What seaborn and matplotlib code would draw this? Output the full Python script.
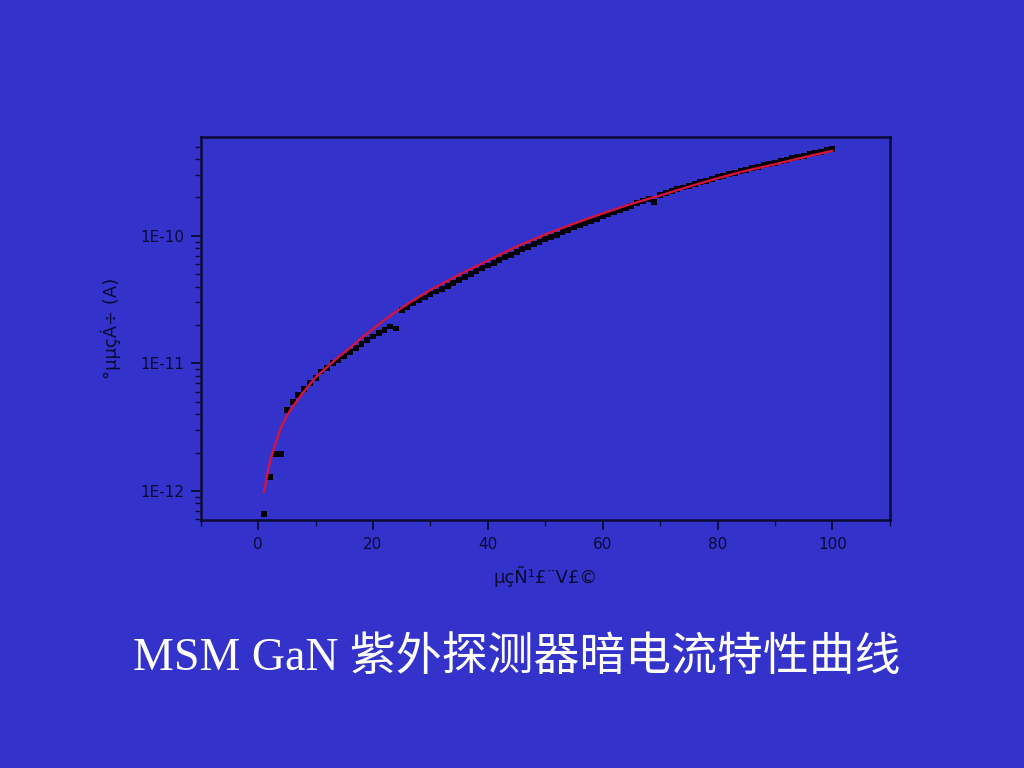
import numpy as np
import pandas as pd
import matplotlib
matplotlib.use('Agg')
import matplotlib.pyplot as plt
import matplotlib.ticker as mticker
import seaborn as sns

# measured dark current, log10(I / A), one point per volt from 1 V to 100 V
voltage = list(range(1, 101))
dark_log10 = [
    -12.18, -11.89, -11.71, -11.71, -11.365, -11.30, -11.25, -11.20, -11.153, -11.114,
    -11.064, -11.035, -10.998, -10.973, -10.941, -10.91, -10.878, -10.85, -10.82, -10.79,
    -10.763, -10.737, -10.711, -10.727, -10.58, -10.555, -10.531, -10.507, -10.484, -10.46,
    -10.437, -10.414, -10.391, -10.368, -10.345, -10.322, -10.30, -10.277, -10.255, -10.233,
    -10.211, -10.19, -10.169, -10.148, -10.127, -10.107, -10.087, -10.067, -10.048, -10.029,
    -10.01, -9.991, -9.97, -9.952, -9.935, -9.918, -9.90, -9.883, -9.866, -9.849,
    -9.832, -9.815, -9.798, -9.781, -9.764, -9.747, -9.73, -9.713, -9.735, -9.68,
    -9.665, -9.65, -9.636, -9.622, -9.608, -9.594, -9.581, -9.568, -9.555, -9.542,
    -9.53, -9.518, -9.506, -9.494, -9.482, -9.471, -9.46, -9.449, -9.438, -9.427,
    -9.416, -9.405, -9.394, -9.383, -9.372, -9.361, -9.351, -9.341, -9.331, -9.321,
]

# fitted curve (red), read at a few voltages
fit_voltage = [1, 2, 3, 4, 5, 6, 8, 10, 12, 14, 16, 18, 20, 22, 24, 26, 28, 30,
               35, 40, 45, 50, 55, 60, 65, 70, 75, 80, 85, 90, 95, 100]
fit_log10 = [-12.01, -11.78, -11.63, -11.50, -11.41, -11.34, -11.22, -11.11, -11.03,
             -10.95, -10.88, -10.80, -10.73, -10.66, -10.595, -10.535, -10.48, -10.425,
             -10.305, -10.195, -10.085, -9.99, -9.905, -9.825, -9.75, -9.685, -9.615,
             -9.55, -9.49, -9.44, -9.385, -9.335]

y_label = '°µµçÁ÷ (A)'
x_label = 'µçÑ¹£¨V£©'
title = 'MSM GaN 紫外探测器暗电流特性曲线'

bg = '#3333cc'
ink = '#0a0a33'

points = pd.DataFrame({'V': voltage, 'I': 10 ** np.array(dark_log10)})
fit = pd.DataFrame({'V': fit_voltage, 'I': 10 ** np.array(fit_log10)})

sns.set_style('white')
plt.rcParams['font.family'] = ['DejaVu Sans']

fig = plt.figure(figsize=(10.24, 7.68), dpi=100, facecolor=bg)
ax = fig.add_axes([0.196, 0.323, 0.673, 0.499])
ax.set_facecolor(bg)
ax.set_yscale('log')

sns.scatterplot(data=points, x='V', y='I', marker='s', color='black', s=18,
                edgecolor='none', ax=ax, zorder=3)
# fit drawn over the points, as in the original
sns.lineplot(data=fit, x='V', y='I', color='#d4143c', linewidth=1.7, ax=ax, zorder=4)

ax.set_xlim(-10, 110)
ax.set_ylim(5.93e-13, 5.97e-10)

ax.xaxis.set_major_locator(mticker.MultipleLocator(20))
ax.xaxis.set_minor_locator(mticker.MultipleLocator(10))
ax.yaxis.set_major_locator(mticker.LogLocator(base=10))
ax.yaxis.set_minor_locator(mticker.LogLocator(base=10, subs=np.arange(2, 10)))
ax.yaxis.set_minor_formatter(mticker.NullFormatter())
ax.yaxis.set_major_formatter(mticker.FuncFormatter(lambda v, p: '1E{}'.format(int(round(np.log10(v))))))

ax.tick_params(which='both', direction='out', colors=ink, labelsize=11,
               top=False, right=False, left=True, bottom=True)
ax.tick_params(which='major', length=7, width=1.3, pad=5)
ax.tick_params(which='minor', length=4, width=1.0)

for sp in ax.spines.values():
    sp.set_color(ink)
    sp.set_linewidth(1.8)
    sp.set_visible(True)

ax.set_xlabel(x_label, fontsize=13, color=ink, labelpad=10)
ax.set_ylabel(y_label, fontsize=13, color=ink, labelpad=14)

fig.text(0.505, 0.143, title, color='white', fontsize=33, ha='center', va='center',
         family=['Liberation Serif', 'Noto Sans CJK SC'])

fig.savefig('out.png', dpi=100, facecolor=bg)
